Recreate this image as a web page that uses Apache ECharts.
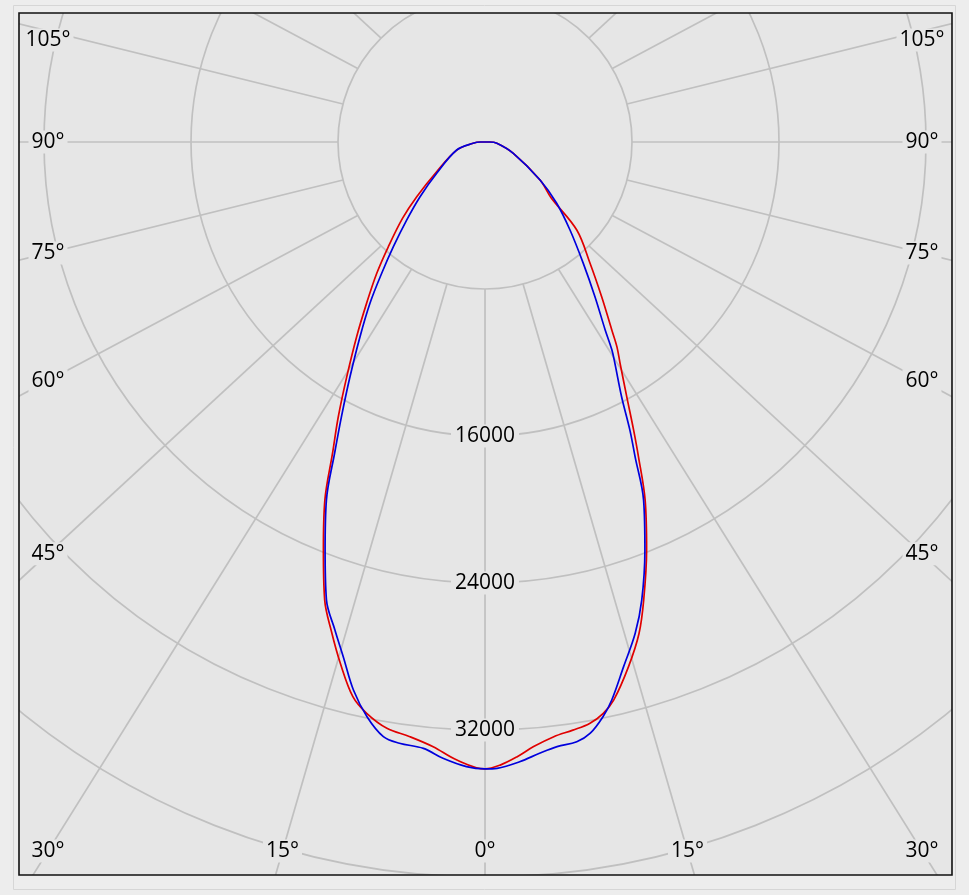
<!DOCTYPE html>
<html>
<head>
<meta charset="utf-8">
<script src="https://cdn.jsdelivr.net/npm/echarts@6/dist/echarts.min.js"></script>
<style>
html,body{margin:0;padding:0;background:#ededed;}
#c{width:969px;height:895px;}
</style>
</head>
<body>
<div id="c"></div>
<script>
// ---------------- data ----------------
const ringLabelValues = [16000, 24000, 32000];
const innerRingValue = 8000;
const gridAngles = [-165,-150,-135,-120,-105,-90,-75,-60,-45,-30,-15,0,15,30,45,60,75,90,105,120,135,150,165,180];
const labelAngles = [-105,-90,-75,-60,-45,-30,-15,0,15,30,45,60,75,90,105];

// red curve (gamma in degrees, intensity)
const redGamma = [-180,-90,-84,-74,-58.4,-51.3,-47.2,-42.7,-39.5,-36.3,-33.4,-30.5,-28.1,-26.1,-24.1,-21.6,-19.3,-17.4,-15.5,-13.4,-11.7,-9.5,-7.2,-4.9,-2.6,0,
  1.4,3.0,4.6,6.6,8.5,10.2,11.7,13.0,15.3,17.4,19.1,21.6,24.1,26.0,27.3,29.1,31.4,32.8,34.0,37.0,40.9,46.2,49.9,55.4,68.2,84,90,180];
const redI = [0,250,650,1600,3090,4760,6120,7760,9260,10880,12690,14820,16950,18860,21340,23890,26400,27930,29450,31030,31750,32350,32620,33030,33670,34120,
  33920,33500,33010,32580,32360,32150,31750,31160,29600,28030,26390,23890,21340,19050,17630,15860,14110,13250,12340,10550,8730,6920,4700,3640,1660,650,250,0];

// blue curve
const blueGamma = [-180,-90,-84,-74.2,-57.1,-49.9,-45.1,-41.2,-38.2,-35.5,-32.7,-29.9,-27.6,-25.8,-23.9,-21.4,-19.1,-17.1,-15.4,-13.5,-11.6,-9.7,-8.1,-5.8,-3.9,-1.7,0,
  1.1,3.2,5.1,6.8,8.7,10.1,11.6,12.8,14.8,17.0,18.9,21.4,23.9,25.5,26.7,28.2,30.4,31.4,32.6,35.4,39.0,44.0,49.5,55.4,68.2,84,90,180];
const blueI = [0,250,650,1600,3130,4620,6020,7570,9090,10780,12590,14740,16860,18800,21300,23850,26370,27780,29050,30670,31930,32830,33050,33170,33620,34010,34120,
  34090,33780,33400,33140,33020,32680,31930,31140,29530,27960,26340,23850,21300,18970,17550,15730,13970,13250,12140,10330,8500,6660,5130,3640,1660,650,250,0];

// ---------------- layout ----------------
const PLOT = {x: 19, y: 13, w: 933, h: 862};
const LB = {x1: 48, x2: 922, y1: 40, y2: 851};
const SKEW = PLOT.w / PLOT.h;
const PLOT_BG = '#e6e6e6';
const OUTER_BG = '#ededed';
const GRID = '#c0c0c0';
const FAMILY = '"Open Sans", "Liberation Sans", Arial, sans-serif';
const FONT = '21px ' + FAMILY;

function pairs(g, v) { return g.map((a, i) => [v[i], a]); }

function gridDir(api, a) {
  const pin = api.coord([innerRingValue, a]);
  const c = api.coord([0, a]);
  let dx = (pin[0] - c[0]) * SKEW, dy = pin[1] - c[1];
  const len = Math.hypot(dx, dy) || 1;
  return {pin, dx: dx / len, dy: dy / len};
}

function labelPos(d) {
  const {pin, dx, dy} = d;
  if (Math.abs(dx) > 1e-6) {
    const xs = dx > 0 ? LB.x2 : LB.x1;
    const t = (xs - pin[0]) / dx;
    const y = pin[1] + t * dy;
    if (t > 0 && y <= LB.y2) return [xs, Math.max(LB.y1, y)];
  }
  const t = (LB.y2 - pin[1]) / dy;
  return [pin[0] + t * dx, LB.y2];
}

const chart = echarts.init(document.getElementById('c'), null, {renderer: 'canvas'});
const option = {
  animation: false,
  backgroundColor: PLOT_BG,
  polar: {center: [485, 142], radius: 882},
  angleAxis: {
    type: 'value', min: -180, max: 180, startAngle: 90, clockwise: false,
    axisLine: {show: false}, axisTick: {show: false}, axisLabel: {show: false}, splitLine: {show: false}
  },
  radiusAxis: {
    type: 'value', min: 0, max: 48000, interval: 8000,
    axisLine: {show: false}, axisTick: {show: false}, axisLabel: {show: false},
    splitLine: {show: true, lineStyle: {color: GRID, width: 1.7}}
  },
  series: [
    {
      type: 'custom', coordinateSystem: 'polar', silent: true, z: 1,
      data: gridAngles.map(a => [innerRingValue, a]),
      renderItem: function (params, api) {
        const d = gridDir(api, api.value(1));
        const L = 2500;
        return {
          type: 'line',
          shape: {x1: d.pin[0], y1: d.pin[1], x2: d.pin[0] + d.dx * L, y2: d.pin[1] + d.dy * L},
          style: {stroke: GRID, lineWidth: 1.7}
        };
      }
    },
    {
      name: 'C0-C180', type: 'line', coordinateSystem: 'polar', z: 3,
      showSymbol: false, symbol: 'none', silent: true, smooth: 0.35,
      lineStyle: {color: '#e00000', width: 1.7},
      data: pairs(redGamma, redI)
    },
    {
      name: 'C90-C270', type: 'line', coordinateSystem: 'polar', z: 4,
      showSymbol: false, symbol: 'none', silent: true, smooth: 0.35,
      lineStyle: {color: '#0000dd', width: 1.7},
      data: pairs(blueGamma, blueI)
    },
    {
      type: 'custom', coordinateSystem: 'polar', silent: true, z: 6,
      data: labelAngles.map(a => [innerRingValue, a]),
      renderItem: function (params, api) {
        const a = api.value(1);
        const p = labelPos(gridDir(api, a));
        return {
          type: 'text', x: p[0], y: p[1],
          style: {
            text: Math.abs(a) + '°', font: FONT, fill: '#000',
            align: 'center', verticalAlign: 'middle',
            backgroundColor: PLOT_BG, padding: [1, 3]
          }
        };
      }
    },
    {
      type: 'scatter', coordinateSystem: 'polar', silent: true, z: 6,
      symbolSize: 0,
      itemStyle: {opacity: 1},
      data: ringLabelValues.map(v => [v, 0]),
      label: {
        show: true, position: 'inside', formatter: p => String(p.value[0]),
        color: '#000', opacity: 1, fontSize: 21, fontFamily: FAMILY,
        backgroundColor: PLOT_BG, padding: [1, 4]
      }
    }
  ],
  graphic: {
    elements: [
      {type: 'rect', silent: true, z: 100, shape: {x: 0, y: 0, width: 969, height: PLOT.y}, style: {fill: OUTER_BG}},
      {type: 'rect', silent: true, z: 100, shape: {x: 0, y: PLOT.y + PLOT.h, width: 969, height: 895 - PLOT.y - PLOT.h}, style: {fill: OUTER_BG}},
      {type: 'rect', silent: true, z: 100, shape: {x: 0, y: 0, width: PLOT.x, height: 895}, style: {fill: OUTER_BG}},
      {type: 'rect', silent: true, z: 100, shape: {x: PLOT.x + PLOT.w, y: 0, width: 969 - PLOT.x - PLOT.w, height: 895}, style: {fill: OUTER_BG}},
      {type: 'rect', silent: true, z: 101, shape: {x: 13.5, y: 5.5, width: 942, height: 884}, style: {fill: 'none', stroke: '#d6d6d6', lineWidth: 1}},
      {type: 'rect', silent: true, z: 102, shape: {x: PLOT.x, y: PLOT.y, width: PLOT.w, height: PLOT.h}, style: {fill: 'none', stroke: '#111', lineWidth: 1.6}}
    ]
  }
};
chart.setOption(option);
</script>
</body>
</html>
